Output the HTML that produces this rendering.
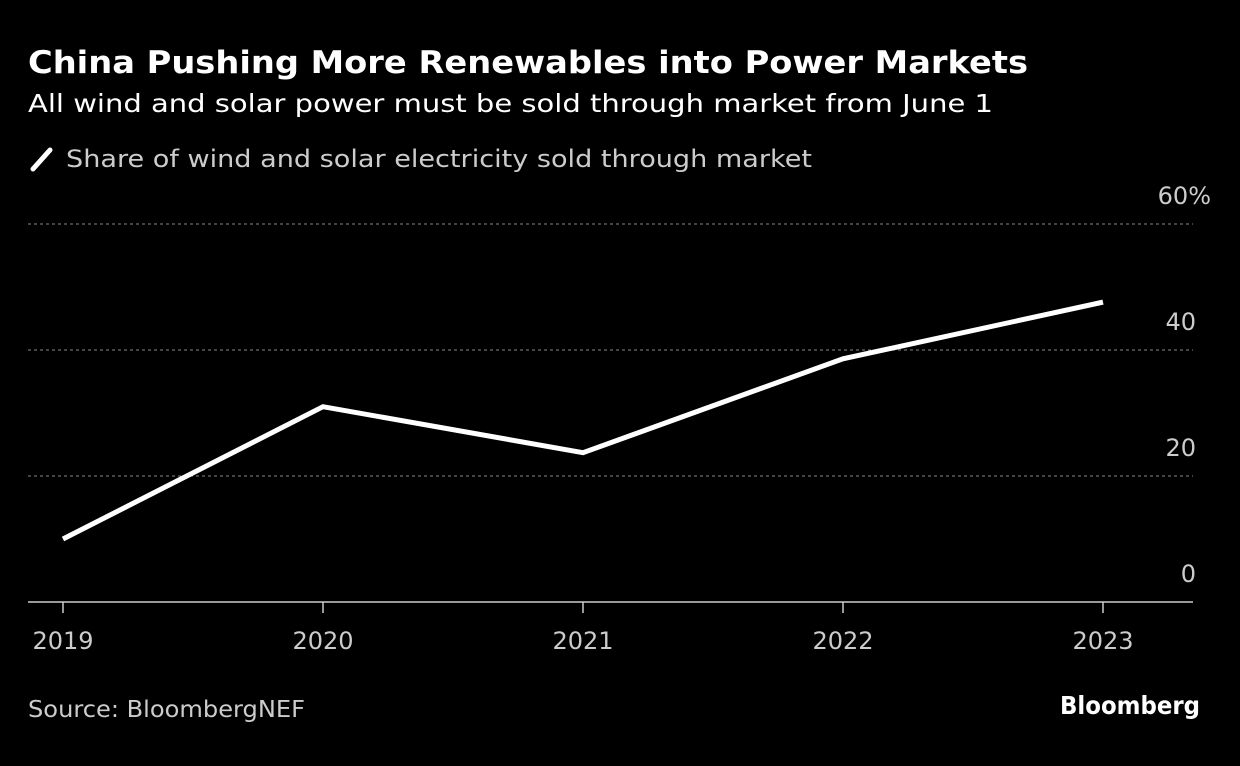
<!DOCTYPE html>
<html><head><meta charset="utf-8"><style>
body{margin:0;background:#000;width:1240px;height:766px;overflow:hidden;font-family:"DejaVu Sans","Liberation Sans",sans-serif;color:#fff}
</style></head><body>
<svg width="1240" height="766" style="position:absolute;left:0;top:0">
<text x="28" y="73" font-size="31" font-weight="bold" fill="#fff" textLength="1000" lengthAdjust="spacingAndGlyphs">China Pushing More Renewables into Power Markets</text>
<text x="28" y="112" font-size="25" fill="#fff" textLength="965" lengthAdjust="spacingAndGlyphs">All wind and solar power must be sold through market from June 1</text>
<line x1="33" y1="169" x2="50" y2="150" stroke="#fff" stroke-width="5" stroke-linecap="round"/>
<text x="66" y="167" font-size="24" fill="#ccc" textLength="746" lengthAdjust="spacingAndGlyphs">Share of wind and solar electricity sold through market</text>
<g id="grid"></g><g id="xt"></g>
<polyline id="line" fill="none" stroke="#fff" stroke-width="5" stroke-linejoin="miter"/>
<text x="28" y="717" font-size="23" fill="#ccc" textLength="277" lengthAdjust="spacingAndGlyphs">Source: BloombergNEF</text>
<text x="1060" y="714" font-size="25" font-weight="bold" fill="#fff" textLength="140" lengthAdjust="spacingAndGlyphs">Bloomberg</text>
</svg>
<script>
const years=["2019","2020","2021","2022","2023"];
const values=[10,31,23.7,38.6,47.6];
const yTicks=[0,20,40,60];
const yTickLabels=["0","20","40","60%"];
const ns="http://www.w3.org/2000/svg";
const x=i=>63+i*260;
const y=v=>602-v*6.3;
const grid=document.getElementById('grid');
yTicks.forEach((t,i)=>{
  const l=document.createElementNS(ns,'line');
  l.setAttribute('x1',28);l.setAttribute('x2',1193);l.setAttribute('y1',y(t));l.setAttribute('y2',y(t));
  if(t===0){l.setAttribute('stroke','#ccc');l.setAttribute('stroke-width','1.5');}
  else{l.setAttribute('stroke','#888');l.setAttribute('stroke-dasharray','3,3');}
  
  
  grid.appendChild(l);
  const tx=document.createElementNS(ns,'text');
  tx.setAttribute('x',t===60?1211:1196);tx.setAttribute('y',y(t)-20);
  tx.setAttribute('text-anchor','end');tx.setAttribute('font-size','24');tx.setAttribute('fill','#ccc');
  tx.textContent=yTickLabels[i];
  
  
  grid.appendChild(tx);
});
const xt=document.getElementById('xt');
years.forEach((yr,i)=>{
  const l=document.createElementNS(ns,'line');
  l.setAttribute('x1',x(i));l.setAttribute('x2',x(i));l.setAttribute('y1',602);l.setAttribute('y2',613);
  l.setAttribute('stroke','#ccc');l.setAttribute('stroke-width','1.5');
  
  
  xt.appendChild(l);
  const tx=document.createElementNS(ns,'text');
  tx.setAttribute('x',x(i));tx.setAttribute('y',649);tx.setAttribute('text-anchor','middle');
  tx.setAttribute('font-size','24');tx.setAttribute('fill','#ccc');tx.textContent=yr;
  
  
  xt.appendChild(tx);
});
document.getElementById('line').setAttribute('points',values.map((v,i)=>x(i)+','+y(v)).join(' '));
</script>
</body></html>
